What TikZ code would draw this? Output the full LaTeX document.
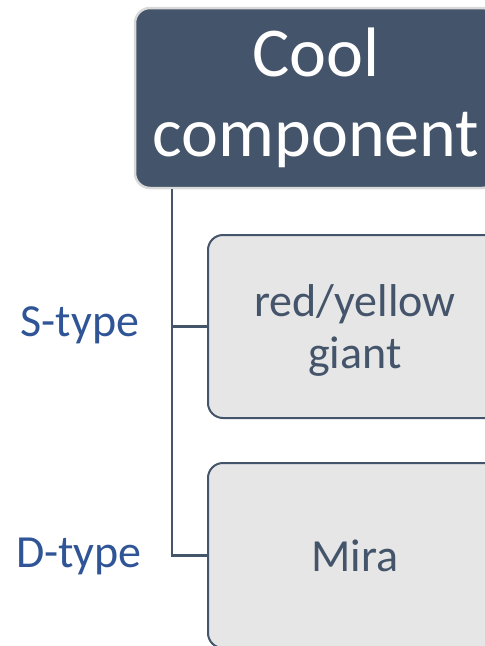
\documentclass[tikz,border=0pt]{standalone}
\usepackage{fontspec}
\setmainfont{Carlito}
\definecolor{dark}{HTML}{44546A}
\definecolor{lgray}{HTML}{E7E6E6}
\definecolor{lblue}{HTML}{2F5597}
\definecolor{rim}{HTML}{D9D9D9}
\begin{document}
\begin{tikzpicture}[x=1pt,y=-1pt,
  topbox/.style={rectangle, rounded corners=15pt, fill=dark, draw=rim, line width=2.5pt,
    text=white, align=center, minimum width=362pt, minimum height=180pt,
    font=\fontsize{70}{80}\selectfont, inner sep=0pt},
  subbox/.style={rectangle, rounded corners=15pt, fill=lgray, draw=dark, line width=2pt,
    minimum width=294pt, minimum height=183pt, inner sep=0pt},
  subtext/.style={text=dark, align=center, font=\fontsize{46}{52}\selectfont, inner sep=0pt},
  lab/.style={text=lblue, font=\fontsize{46}{52}\selectfont, inner sep=0pt},
  conn/.style={draw=dark, line width=2.5pt}]
\clip (0,0) rectangle (485,646);
\node[topbox] (top) at (316,98) {Cool\\component};
\node[subbox] (s) at (355,326.5) {};
\node[subtext] (stx) at ([yshift=-4pt]s.center) {red/yellow\\giant};
\node[subbox, minimum height=185pt] (d) at (355,555.5) {};
\node[subtext] (dtx) at (d.center) {Mira};
\node[lab] (st) at (80,325) {S-type};
\node[lab] (dt) at (79,556) {D-type};
\coordinate (v) at (172,0);
\draw[conn] (v |- top.south) |- (s.west);
\draw[conn] (v |- top.south) |- (d.west);
\end{tikzpicture}
\end{document}
